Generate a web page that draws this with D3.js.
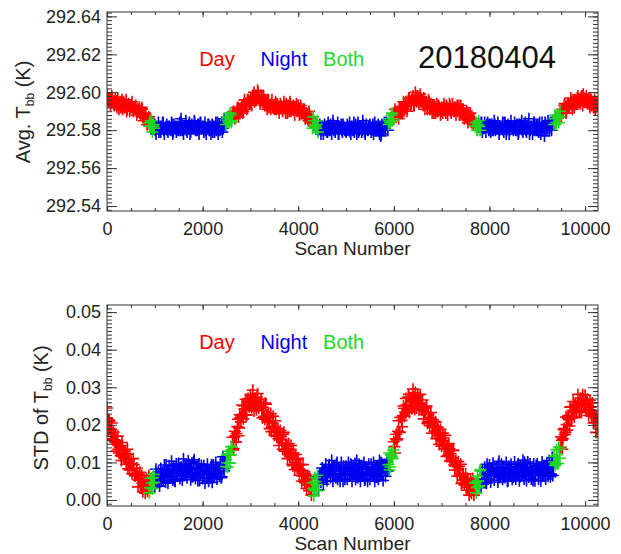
<!DOCTYPE html>
<html>
<head>
<meta charset="utf-8">
<script src="https://cdn.jsdelivr.net/npm/d3@7"></script>
<style>
  body { margin: 0; background: #fff; }
  svg text { font-family: "Liberation Sans", Arial, Helvetica, sans-serif; }
</style>
</head>
<body>
<div id="chart"></div>
<script>
// two interleaved samplings of the scans, every 25 scan numbers
let scanA = d3.range(0, 10251, 25);    // 0, 25, ... 10250
let scanB = d3.range(12, 10263, 25);   // 12, 37, ... 10262

// Avg. Tbb (K)
let avgTbbA = [
  292.599,292.595,292.597,292.593,292.598,292.595,292.593,292.597,292.593,292.597,292.591,292.595,292.594,292.591,292.595,292.592,292.596,292.591,292.594,292.590, // 0
  292.592,292.595,292.590,292.592,292.593,292.588,292.590,292.592,292.588,292.592,292.587,292.585,292.589,292.586,292.583,292.587,292.582,292.585,292.579,292.583, // 500
  292.583,292.578,292.581,292.584,292.580,292.579,292.582,292.584,292.578,292.581,292.583,292.579,292.582,292.580,292.584,292.578,292.583,292.581,292.579,292.582, // 1000
  292.580,292.584,292.586,292.580,292.578,292.582,292.585,292.579,292.581,292.584,292.579,292.583,292.581,292.585,292.580,292.582,292.583,292.578,292.584,292.581, // 1500
  292.582,292.579,292.584,292.578,292.581,292.583,292.580,292.578,292.583,292.582,292.579,292.584,292.581,292.578,292.583,292.581,292.584,292.581,292.586,292.583, // 2000
  292.583,292.587,292.584,292.589,292.584,292.589,292.590,292.586,292.588,292.592,292.587,292.591,292.590,292.593,292.590,292.596,292.594,292.591,292.596,292.594, // 2500
  292.597,292.593,292.598,292.600,292.596,292.596,292.601,292.597,292.594,292.598,292.595,292.598,292.593,292.596,292.591,292.596,292.593,292.591,292.596,292.592, // 3000
  292.591,292.595,292.591,292.593,292.589,292.594,292.592,292.590,292.595,292.591,292.594,292.589,292.593,292.595,292.590,292.592,292.593,292.588,292.592,292.590, // 3500
  292.593,292.588,292.593,292.589,292.589,292.591,292.586,292.589,292.586,292.590,292.584,292.586,292.581,292.585,292.583,292.581,292.585,292.580,292.583,292.578, // 4000
  292.582,292.578,292.583,292.581,292.579,292.584,292.580,292.583,292.578,292.585,292.580,292.579,292.582,292.584,292.578,292.581,292.583,292.579,292.582,292.580, // 4500
  292.579,292.583,292.580,292.584,292.578,292.582,292.581,292.579,292.583,292.578,292.584,292.580,292.582,292.579,292.585,292.581,292.578,292.583,292.580,292.582, // 5000
  292.583,292.579,292.582,292.578,292.584,292.581,292.580,292.583,292.578,292.577,292.583,292.580,292.584,292.580,292.584,292.580,292.586,292.584,292.588,292.585, // 5500
  292.586,292.591,292.587,292.590,292.586,292.592,292.590,292.589,292.595,292.591,292.595,292.590,292.595,292.597,292.593,292.596,292.598,292.593,292.600,292.595, // 6000
  292.598,292.594,292.599,292.595,292.595,292.597,292.591,292.595,292.591,292.596,292.591,292.594,292.589,292.591,292.593,292.589,292.594,292.590,292.592,292.588, // 6500
  292.592,292.589,292.594,292.590,292.593,292.588,292.591,292.593,292.589,292.594,292.590,292.592,292.588,292.593,292.591,292.588,292.593,292.588,292.591,292.586, // 7000
  292.587,292.590,292.584,292.587,292.589,292.584,292.585,292.586,292.582,292.584,292.580,292.585,292.580,292.584,292.579,292.582,292.584,292.579,292.583,292.581, // 7500
  292.583,292.579,292.583,292.580,292.585,292.580,292.581,292.584,292.578,292.582,292.581,292.584,292.579,292.584,292.578,292.582,292.582,292.580,292.585,292.581, // 8000
  292.580,292.584,292.580,292.583,292.578,292.583,292.582,292.585,292.579,292.581,292.584,292.579,292.582,292.586,292.580,292.581,292.578,292.584,292.580,292.583, // 8500
  292.583,292.579,292.584,292.578,292.584,292.581,292.577,292.583,292.580,292.585,292.580,292.584,292.580,292.585,292.583,292.588,292.584,292.587,292.584,292.590, // 9000
  292.587,292.591,292.590,292.594,292.589,292.593,292.593,292.592,292.597,292.593,292.596,292.592,292.596,292.594,292.598,292.596,292.594,292.598,292.593,292.597, // 9500
  292.595,292.598,292.594,292.596,292.592,292.596,292.594,292.592,292.596,292.592,292.595 // 10000
];
let avgTbbB = [
  292.597,292.597,292.595,292.596,292.597,292.594,292.595,292.595,292.592,292.595,292.594,292.592,292.596,292.593,292.592,292.594,292.590,292.593,292.593,292.592, // 12
  292.593,292.592,292.591,292.592,292.590,292.591,292.591,292.589,292.589,292.591,292.588,292.587,292.588,292.583,292.586,292.584,292.582,292.585,292.582,292.581, // 512
  292.580,292.582,292.581,292.579,292.582,292.581,292.584,292.580,292.581,292.582,292.580,292.582,292.581,292.580,292.583,292.579,292.581,292.582,292.580,292.581, // 1012
  292.582,292.580,292.583,292.581,292.581,292.582,292.580,292.582,292.583,292.578,292.582,292.581,292.581,292.584,292.581,292.580,292.583,292.582,292.584,292.581, // 1512
  292.581,292.582,292.580,292.581,292.583,292.580,292.582,292.581,292.579,292.582,292.581,292.580,292.584,292.581,292.580,292.582,292.579,292.583,292.584,292.583, // 2012
  292.586,292.585,292.585,292.588,292.585,292.588,292.589,292.587,292.589,292.592,292.589,292.591,292.592,292.589,292.594,292.593,292.593,292.596,292.595,292.594, // 2512
  292.595,292.597,292.597,292.595,292.598,292.597,292.600,292.596,292.596,292.597,292.595,292.596,292.595,292.593,292.596,292.592,292.593,292.594,292.592,292.592, // 3012
  292.592,292.591,292.594,292.592,292.591,292.593,292.591,292.592,292.593,292.589,292.593,292.592,292.590,292.594,292.591,292.591,292.592,292.592,292.594,292.590, // 3512
  292.591,292.591,292.589,292.590,292.591,292.588,292.589,292.588,292.585,292.587,292.585,292.584,292.587,292.583,292.582,292.583,292.579,292.581,292.582,292.580, // 4012
  292.582,292.581,292.580,292.582,292.579,292.581,292.582,292.580,292.581,292.583,292.580,292.581,292.582,292.578,292.582,292.581,292.580,292.583,292.581,292.580, // 4512
  292.580,292.582,292.581,292.579,292.582,292.580,292.584,292.581,292.581,292.582,292.579,292.582,292.581,292.580,292.583,292.579,292.582,292.581,292.580,292.581, // 5012
  292.581,292.580,292.583,292.581,292.580,292.582,292.580,292.581,292.582,292.578,292.582,292.581,292.581,292.584,292.583,292.583,292.585,292.585,292.589,292.586, // 5512
  292.588,292.589,292.588,292.589,292.592,292.589,292.592,292.592,292.590,292.594,292.593,292.593,292.597,292.595,292.594,292.597,292.593,292.596,292.598,292.596, // 6012
  292.597,292.596,292.595,292.596,292.593,292.595,292.595,292.593,292.593,292.595,292.591,292.592,292.593,292.589,292.592,292.591,292.590,292.593,292.591,292.590, // 6512
  292.590,292.592,292.591,292.589,292.592,292.591,292.594,292.590,292.591,292.592,292.590,292.592,292.591,292.590,292.593,292.589,292.590,292.591,292.588,292.589, // 7012
  292.588,292.586,292.589,292.586,292.585,292.586,292.583,292.584,292.584,292.580,292.583,292.582,292.580,292.584,292.581,292.581,292.582,292.582,292.584,292.580, // 7512
  292.581,292.583,292.580,292.582,292.583,292.581,292.582,292.581,292.580,292.582,292.581,292.580,292.584,292.582,292.580,292.583,292.578,292.582,292.582,292.581, // 8012
  292.582,292.582,292.580,292.583,292.579,292.581,292.583,292.580,292.582,292.583,292.580,292.581,292.583,292.578,292.582,292.582,292.580,292.584,292.581,292.580, // 8512
  292.580,292.583,292.581,292.580,292.582,292.582,292.584,292.581,292.581,292.583,292.581,292.584,292.583,292.583,292.586,292.583,292.586,292.588,292.587,292.589, // 9012
  292.589,292.589,292.593,292.592,292.591,292.594,292.592,292.594,292.595,292.591,292.596,292.595,292.594,292.597,292.596,292.595,292.597,292.596,292.599,292.595, // 9512
  292.596,292.596,292.594,292.595,292.597,292.593,292.595,292.594,292.591,292.594,292.593 // 10012
];

// STD of Tbb (K)
let stdTbbA = [
  0.0245,0.0185,0.021,0.0175,0.0205,0.016,0.016,0.017,0.013,0.017,0.0125,0.014,0.0105,0.0145,0.0115,0.013,0.0095,0.0135,0.01,0.008, // 0
  0.011,0.007,0.011,0.0068,0.007,0.0085,0.0035,0.0065,0.0035,0.0065,0.0022,0.0055,0.0018,0.0057,0.0023,0.0065,0.0033,0.0058,0.003,0.0068, // 500
  0.0035,0.0082,0.005,0.0075,0.0037,0.0084,0.0065,0.0051,0.0093,0.0048,0.008,0.0045,0.0091,0.0062,0.0103,0.0054,0.009,0.005,0.0096,0.0071, // 1000
  0.0097,0.0057,0.0088,0.0053,0.0109,0.0069,0.0094,0.0059,0.0104,0.0079,0.0054,0.0098,0.0063,0.0107,0.0057,0.0087,0.0052,0.0096,0.0066,0.0091, // 1500
  0.0057,0.0091,0.0045,0.008,0.0095,0.005,0.007,0.0086,0.0047,0.0093,0.0064,0.01,0.0056,0.0087,0.0063,0.01,0.0062,0.0115,0.0078,0.0107, // 2000
  0.012,0.0088,0.013,0.0098,0.0142,0.0167,0.0137,0.0183,0.0154,0.0195,0.0171,0.0227,0.0208,0.0253,0.0216,0.0242,0.0268,0.0227,0.027,0.0248, // 2500
  0.028,0.0246,0.0292,0.0237,0.0271,0.024,0.0283,0.0245,0.0252,0.0268,0.0219,0.0255,0.0215,0.0255,0.0211,0.0231,0.019,0.023,0.0194,0.0223, // 3000
  0.0172,0.0211,0.017,0.019,0.0145,0.0185,0.016,0.0135,0.018,0.013,0.015,0.011,0.015,0.0115,0.0145,0.0095,0.0125,0.0081,0.0121,0.0086, // 3500
  0.0111,0.0066,0.0095,0.005,0.0094,0.0053,0.0067,0.0031,0.0065,0.0025,0.0056,0.0013,0.0046,0.0011,0.006,0.0025,0.0066,0.0027,0.0068,0.0047, // 4000
  0.0085,0.0042,0.0079,0.0095,0.0052,0.0073,0.0094,0.006,0.0105,0.005,0.009,0.0065,0.0095,0.0055,0.0085,0.005,0.01,0.0065,0.009,0.0055, // 4500
  0.009,0.0055,0.01,0.0065,0.0095,0.005,0.0075,0.0085,0.0055,0.0105,0.006,0.0095,0.005,0.009,0.0065,0.01,0.0055,0.0085,0.005,0.0095, // 5000
  0.0055,0.0095,0.0065,0.01,0.005,0.0085,0.009,0.0055,0.0105,0.0065,0.0095,0.0052,0.0095,0.0063,0.0107,0.0077,0.0125,0.0088,0.0125,0.011, // 5500
  0.0155,0.0125,0.0175,0.0163,0.0211,0.018,0.022,0.0195,0.025,0.0223,0.027,0.024,0.0274,0.0233,0.0271,0.0243,0.0295,0.0251,0.0286,0.0245, // 6000
  0.0278,0.024,0.0281,0.0241,0.0266,0.0216,0.0235,0.025,0.0204,0.0228,0.0198,0.0233,0.0178,0.0213,0.0183,0.0208,0.0163,0.0188,0.0148,0.0188, // 6500
  0.0143,0.0178,0.0137,0.0172,0.0116,0.0145,0.015,0.0104,0.0133,0.0102,0.0131,0.008,0.0104,0.0063,0.0102,0.0066,0.0095,0.0045,0.007,0.004, // 7000
  0.007,0.0026,0.0057,0.0013,0.0055,0.0018,0.0057,0.0013,0.0045,0.0019,0.0063,0.0038,0.0078,0.0033,0.0077,0.0055,0.0087,0.0049,0.0095,0.0056, // 7500
  0.0093,0.0048,0.0083,0.0098,0.0053,0.0073,0.0088,0.0048,0.0103,0.0063,0.0095,0.0055,0.0085,0.006,0.01,0.005,0.009,0.0065,0.0095,0.0055, // 8000
  0.0061,0.0101,0.0056,0.0086,0.0096,0.0051,0.0091,0.0066,0.0106,0.0056,0.0086,0.0051,0.0101,0.0061,0.0096,0.0056,0.0076,0.0096,0.0051,0.0091, // 8500
  0.0096,0.0056,0.0086,0.0051,0.0101,0.0066,0.0091,0.0056,0.0096,0.0063,0.0105,0.0062,0.0095,0.0065,0.0116,0.0092,0.0134,0.0097,0.0141,0.0111, // 9000
  0.0168,0.0135,0.0187,0.0174,0.0221,0.0186,0.0225,0.0197,0.0248,0.0218,0.0262,0.0221,0.0255,0.0233,0.0281,0.0234,0.0271,0.0233,0.028,0.025, // 9500
  0.0279,0.0237,0.0269,0.0225,0.0265,0.023,0.0258,0.0205,0.0225,0.018,0.0215 // 10000
];
let stdTbbB = [
  0.0217,0.0213,0.0189,0.0188,0.0163,0.018,0.0155,0.0153,0.0158,0.0135,0.0143,0.0118,0.0153,0.012,0.0125,0.0108,0.0121,0.0083,0.0107,0.0096, // 12
  0.0097,0.0084,0.0094,0.0064,0.0068,0.0069,0.0053,0.0074,0.0035,0.0046,0.0039,0.0049,0.0029,0.0037,0.0045,0.0019,0.0058,0.0045,0.006,0.0047, // 512
  0.0051,0.0068,0.006,0.0053,0.0067,0.005,0.0074,0.0069,0.0065,0.0093,0.006,0.0076,0.0071,0.0066,0.0084,0.0072,0.0051,0.0083,0.0071,0.0079, // 1012
  0.0077,0.0085,0.0071,0.008,0.0065,0.0092,0.0074,0.0077,0.0087,0.0069,0.0082,0.0062,0.0102,0.0072,0.0079,0.0067,0.0085,0.0052,0.0081,0.0075, // 1512
  0.0077,0.0068,0.0082,0.006,0.007,0.0077,0.0066,0.0094,0.006,0.0077,0.0073,0.0086,0.0069,0.0078,0.0085,0.0059,0.0097,0.0083,0.0099,0.0089, // 2012
  0.0099,0.0122,0.0119,0.012,0.0141,0.0133,0.0167,0.0171,0.0177,0.0215,0.0192,0.0219,0.0223,0.0226,0.025,0.0243,0.0226,0.0262,0.0252,0.0262, // 2512
  0.0261,0.027,0.0256,0.0265,0.0249,0.0274,0.0254,0.0254,0.026,0.0238,0.0247,0.0223,0.0258,0.0223,0.0226,0.0208,0.0221,0.0182,0.0205,0.0193, // 3012
  0.0194,0.018,0.019,0.0163,0.0168,0.017,0.0153,0.0175,0.0135,0.0146,0.0136,0.0143,0.012,0.0123,0.0124,0.0091,0.0121,0.01,0.0108,0.0087, // 3512
  0.0084,0.0093,0.0078,0.0064,0.007,0.0046,0.0063,0.005,0.004,0.0062,0.0025,0.0038,0.0031,0.0027,0.0049,0.0041,0.0025,0.0063,0.0055,0.0067, // 4012
  0.0066,0.0076,0.0064,0.0074,0.0061,0.0089,0.0072,0.0075,0.0085,0.0067,0.008,0.006,0.01,0.007,0.0077,0.0065,0.0083,0.005,0.0079,0.0073, // 4512
  0.008,0.0072,0.0087,0.0065,0.0075,0.0082,0.007,0.0097,0.0062,0.0078,0.0073,0.0085,0.0067,0.0075,0.0081,0.0053,0.0088,0.0071,0.0084,0.0068, // 5012
  0.007,0.0085,0.0075,0.0067,0.0079,0.0061,0.0084,0.0077,0.0072,0.0099,0.0066,0.0085,0.0082,0.0079,0.0101,0.0094,0.008,0.012,0.0115,0.0133, // 5512
  0.0142,0.0163,0.016,0.0183,0.0181,0.022,0.0212,0.0225,0.0244,0.0234,0.0253,0.0237,0.0281,0.0255,0.0264,0.0254,0.0274,0.0241,0.027,0.0262, // 6012
  0.0267,0.0255,0.0266,0.0239,0.0244,0.0245,0.0228,0.0249,0.0208,0.0219,0.0209,0.0216,0.0193,0.0196,0.0197,0.0164,0.0194,0.0172,0.018,0.0159, // 6512
  0.0156,0.0165,0.015,0.0136,0.0142,0.0119,0.0136,0.0123,0.0112,0.0133,0.0093,0.0103,0.0091,0.0079,0.009,0.0071,0.0044,0.0071,0.0053,0.0056, // 7012
  0.0048,0.0052,0.0034,0.004,0.0022,0.0048,0.003,0.0034,0.0047,0.0033,0.0051,0.0036,0.0081,0.0055,0.0066,0.0056,0.0076,0.0045,0.0075,0.007, // 7512
  0.0078,0.007,0.0085,0.0063,0.0073,0.008,0.0068,0.0095,0.006,0.0076,0.0071,0.0083,0.0065,0.0073,0.0079,0.0051,0.0086,0.0069,0.0082,0.0066, // 8012
  0.0071,0.0086,0.0076,0.0068,0.008,0.0062,0.0085,0.0078,0.0073,0.01,0.0066,0.0082,0.0076,0.007,0.0087,0.0074,0.0052,0.0084,0.0071,0.0079, // 8512
  0.0076,0.0084,0.007,0.0079,0.0064,0.0091,0.0073,0.0076,0.0086,0.0071,0.0086,0.0069,0.0113,0.0088,0.0101,0.0096,0.0121,0.0097,0.0135,0.014, // 9012
  0.0159,0.0163,0.019,0.018,0.0201,0.0218,0.0214,0.0247,0.0218,0.0238,0.0237,0.0253,0.0239,0.025,0.0259,0.0233,0.027,0.0255,0.0269,0.0253, // 9512
  0.0253,0.0266,0.0252,0.024,0.0247,0.0223,0.0238,0.0222,0.0207,0.0224,0.018 // 10012
];

// day / night / both periods, as scan number ranges
let modeBreaks = [0, 880, 1000, 2480, 2620, 4300, 4420, 5880, 6000, 7700, 7820, 9350, 9480, 10300];
let modeNames = ['Day', 'Both', 'Night', 'Both', 'Day', 'Both', 'Night', 'Both', 'Day', 'Both', 'Night', 'Both', 'Day'];

let xTicks = [0, 2000, 4000, 6000, 8000, 10000];
let avgTicks = [292.54, 292.56, 292.58, 292.60, 292.62, 292.64];
let stdTicks = [0.00, 0.01, 0.02, 0.03, 0.04, 0.05];
let legendNames = ['Day', 'Night', 'Both'];
let legendScans = [2300, 3700, 4950];
let dateLabel = '20180404';

let colors = {Day: '#ff0000', Night: '#0000f0', Both: '#1ed81e'};

let width = 621, height = 554;
let plot_left = 107, plot_right = 598;

let svg = d3.select('#chart')
            .append('svg')
            .attr('width', width)
            .attr('height', height);

function modeOf(s) {
  let i = d3.bisectRight(modeBreaks, s) - 1;
  return modeNames[Math.max(0, Math.min(i, modeNames.length - 1))];
}

function toPoints(scans, values) {
  return scans.map(function(s, i) { return {scan: s, value: values[i], mode: modeOf(s)}; })
              .filter(function(d) { return d.value !== undefined; });
}

function drawPanel(cfg) {
  let x = d3.scaleLinear().domain([0, 10270]).range([plot_left, plot_right]);
  let y = d3.scaleLinear().domain(cfg.domain).range([cfg.bottom, cfg.top]);
  let g = svg.append('g');
  let clipId = 'clip-' + cfg.name;

  g.append('clipPath')
   .attr('id', clipId)
   .append('rect')
   .attr('x', plot_left)
   .attr('y', cfg.top)
   .attr('width', plot_right - plot_left)
   .attr('height', cfg.bottom - cfg.top);

  // points, drawn as '+' symbols
  let pts = toPoints(scanA, cfg.valuesA).concat(toPoints(scanB, cfg.valuesB));
  let arm = 6;
  let marks = g.append('g').attr('clip-path', 'url(#' + clipId + ')');
  ['Day', 'Night', 'Both'].forEach(function(m) {
    let dstr = pts.filter(function(d) { return d.mode === m; })
                  .map(function(d) {
                    let px = x(d.scan), py = y(d.value);
                    return 'M' + (px - arm) + ',' + py + 'h' + (2 * arm) +
                           'M' + px + ',' + (py - arm) + 'v' + (2 * arm);
                  }).join('');
    marks.append('path')
         .attr('d', dstr)
         .style('fill', 'none')
         .style('stroke', colors[m])
         .style('stroke-width', 1.6);
  });

  // axes (IDL style: ticks inside, mirrored on the top and right)
  let yMajorLen = 10, yMinorLen = 5, xMajorLen = 5, xMinorLen = 3;
  let xMinor = d3.range(0, 10271, 500);
  let yMinor = d3.range(cfg.minorCount).map(function(i) { return cfg.minorStart + i * cfg.minorStep; })
                 .filter(function(v) { return v >= cfg.domain[0] && v <= cfg.domain[1]; });

  function styleAxis(sel) {
    sel.select('.domain').remove();
    sel.selectAll('line').style('stroke', '#333');
    sel.selectAll('text')
       .style('font-size', '18px')
       .style('fill', '#222');
  }

  g.append('g')
   .attr('transform', 'translate(0,' + cfg.bottom + ')')
   .call(d3.axisBottom(x).tickValues(xMinor).tickSize(-xMinorLen).tickFormat(''))
   .call(styleAxis);
  g.append('g')
   .attr('transform', 'translate(0,' + cfg.bottom + ')')
   .call(d3.axisBottom(x).tickValues(xTicks).tickSize(-xMajorLen).tickPadding(11).tickFormat(d3.format('d')))
   .call(styleAxis);
  g.append('g')
   .attr('transform', 'translate(0,' + cfg.top + ')')
   .call(d3.axisTop(x).tickValues(xMinor).tickSize(-xMinorLen).tickFormat(''))
   .call(styleAxis);
  g.append('g')
   .attr('transform', 'translate(0,' + cfg.top + ')')
   .call(d3.axisTop(x).tickValues(xTicks).tickSize(-xMajorLen).tickFormat(''))
   .call(styleAxis);

  g.append('g')
   .attr('transform', 'translate(' + plot_left + ',0)')
   .call(d3.axisLeft(y).tickValues(yMinor).tickSize(-yMinorLen).tickFormat(''))
   .call(styleAxis);
  g.append('g')
   .attr('transform', 'translate(' + plot_left + ',0)')
   .call(d3.axisLeft(y).tickValues(cfg.ticks).tickSize(-yMajorLen).tickPadding(6).tickFormat(d3.format('.2f')))
   .call(styleAxis);
  g.append('g')
   .attr('transform', 'translate(' + plot_right + ',0)')
   .call(d3.axisRight(y).tickValues(yMinor).tickSize(-yMinorLen).tickFormat(''))
   .call(styleAxis);
  g.append('g')
   .attr('transform', 'translate(' + plot_right + ',0)')
   .call(d3.axisRight(y).tickValues(cfg.ticks).tickSize(-yMajorLen).tickFormat(''))
   .call(styleAxis);

  g.append('rect')
   .attr('x', plot_left)
   .attr('y', cfg.top)
   .attr('width', plot_right - plot_left)
   .attr('height', cfg.bottom - cfg.top)
   .style('fill', 'none')
   .style('stroke', '#333')
   .style('stroke-width', 1);

  // axis titles
  g.append('text')
   .attr('x', (plot_left + plot_right) / 2)
   .attr('y', cfg.bottom + 44)
   .attr('text-anchor', 'middle')
   .style('font-size', '19px')
   .style('fill', '#222')
   .text('Scan Number');

  let yt = g.append('text')
            .attr('transform', 'translate(' + cfg.titleX + ',' + cfg.titleY + ') rotate(-90)')
            .attr('text-anchor', 'middle')
            .style('font-size', '20px')
            .style('fill', '#222');
  yt.append('tspan').text(cfg.titlePre);
  yt.append('tspan').attr('dy', 4).style('font-size', '12px').text('bb');
  yt.append('tspan').attr('dy', -4).text(' (K)');

  // legend words
  legendNames.forEach(function(n, i) {
    g.append('text')
     .attr('x', x(legendScans[i]))
     .attr('y', y(cfg.legendValue))
     .attr('text-anchor', 'middle')
     .attr('dy', '0.35em')
     .style('font-size', '20px')
     .style('fill', colors[n])
     .text(n);
  });

  return {x: x, y: y, g: g};
}

let top_panel = drawPanel({
  name: 'avg', valuesA: avgTbbA, valuesB: avgTbbB, top: 12, bottom: 211,
  domain: [292.5374, 292.6423], ticks: avgTicks,
  minorStart: 292.538, minorStep: 0.002, minorCount: 53,
  titlePre: 'Avg. T', titleX: 30, titleY: 112, legendValue: 292.6175
});

drawPanel({
  name: 'std', valuesA: stdTbbA, valuesB: stdTbbB, top: 305, bottom: 506,
  domain: [-0.0016, 0.0519], ticks: stdTicks,
  minorStart: -0.001, minorStep: 0.001, minorCount: 53,
  titlePre: 'STD of T', titleX: 48, titleY: 408, legendValue: 0.0421
});

top_panel.g.append('text')
   .attr('x', top_panel.x(7950))
   .attr('y', top_panel.y(292.6185))
   .attr('text-anchor', 'middle')
   .attr('dy', '0.35em')
   .style('font-size', '31px')
   .style('fill', '#111')
   .text(dateLabel);
</script>
</body>
</html>
